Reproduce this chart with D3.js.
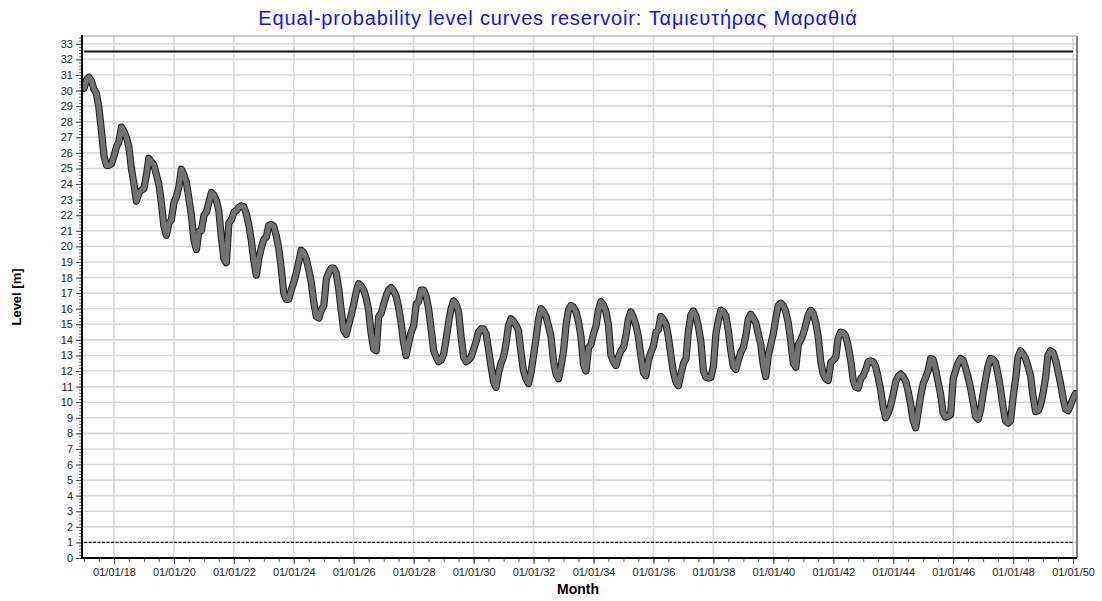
<!DOCTYPE html>
<html>
  <head>
    <meta charset="utf-8">
    <title>Equal-probability level curves</title>
    <script src="https://d3js.org/d3.v7.min.js"></script>
    <style>
      body { margin: 0; background: #fff; }
      svg { display: block; font-family: "Liberation Sans", Arial, sans-serif; }
      .grid line { stroke: #d8d8d8; stroke-width: 1.6; }
      .axis path { display: none; }
      .axis text { font-size: 11px; fill: #222; }
    </style>
  </head>
  <body>
    <div id="chart"></div>
    <script>
      // chart texts
      const title = "Equal-probability level curves reservoir: Ταμιευτήρας Μαραθιά";
      const xTitle = "Month";
      const yTitle = "Level [m]";
      // first month of the series, then one value per month
      const startMonth = new Date(2016, 11, 1);
      const levels = [
        30.2, // Dec 2016
        30.15, 30.7, 30.85, 30.6, 30.1, 29.8, 28.9, 27.4, 25.8, 25.2, 25.2, 25.3, // 2017
        25.8, 26.4, 26.7, 27.65, 27.4, 27.0, 26.4, 25.0, 24.0, 22.9, 23.45, 23.6, // 2018
        23.7, 24.6, 25.65, 25.4, 25.25, 24.6, 24.0, 22.8, 21.3, 20.7, 21.5, 21.7, // 2019
        22.8, 23.2, 23.8, 24.95, 24.6, 24.1, 23.1, 22.0, 20.4, 19.8, 20.95, 21.0, // 2020
        22.0, 22.2, 22.8, 23.45, 23.3, 22.95, 22.3, 20.6, 19.2, 18.95, 21.5, 21.7, // 2021
        22.2, 22.3, 22.5, 22.6, 22.55, 22.1, 21.4, 20.4, 19.1, 18.15, 19.2, 19.9, // 2022
        20.45, 20.6, 21.35, 21.4, 21.3, 20.7, 19.9, 18.6, 17.0, 16.6, 16.6, 17.2, // 2023
        17.7, 18.3, 19.0, 19.75, 19.6, 19.2, 18.5, 17.7, 16.4, 15.5, 15.4, 15.9, // 2024
        16.2, 17.9, 18.3, 18.6, 18.6, 18.3, 17.3, 15.9, 14.6, 14.35, 15.0, 15.6, // 2025
        16.3, 17.1, 17.6, 17.45, 17.2, 16.7, 15.9, 14.4, 13.4, 13.3, 15.5, 15.7, // 2026
        16.3, 16.85, 17.2, 17.35, 17.15, 16.8, 16.1, 15.1, 13.8, 13.0, 13.8, 14.5, // 2027
        14.9, 16.3, 16.45, 17.2, 17.2, 16.8, 16.0, 14.7, 13.3, 12.9, 12.6, 12.7, // 2028
        13.1, 14.1, 15.1, 16.0, 16.5, 16.3, 15.8, 14.2, 12.9, 12.6, 12.7, 12.9, // 2029
        13.4, 13.9, 14.5, 14.7, 14.7, 14.4, 13.4, 12.3, 11.3, 10.95, 11.9, 12.5, // 2030
        12.9, 13.8, 14.9, 15.35, 15.2, 14.95, 14.6, 13.2, 12.0, 11.5, 11.2, 11.9, // 2031
        13.0, 14.1, 15.3, 16.0, 15.8, 15.5, 14.9, 14.2, 12.6, 11.8, 11.5, 12.3, // 2032
        13.3, 15.0, 15.9, 16.2, 16.1, 15.8, 15.2, 14.2, 12.4, 12.0, 13.5, 13.7, // 2033
        14.4, 14.9, 15.9, 16.45, 16.25, 15.8, 15.0, 13.0, 12.6, 12.35, 12.9, 13.3, // 2034
        13.5, 14.3, 15.3, 15.8, 15.45, 14.95, 14.2, 13.0, 11.9, 11.7, 12.7, 13.2, // 2035
        13.6, 14.5, 14.65, 15.5, 15.3, 15.0, 14.2, 13.0, 11.9, 11.3, 11.05, 11.8, // 2036
        12.5, 12.8, 14.5, 15.6, 15.85, 15.55, 14.9, 13.9, 12.0, 11.6, 11.55, 11.6, // 2037
        12.3, 14.4, 15.2, 15.9, 15.8, 15.55, 14.6, 13.3, 12.3, 12.1, 12.7, 13.2, // 2038
        13.5, 14.3, 15.3, 15.65, 15.4, 15.1, 14.4, 13.7, 12.4, 11.65, 13.0, 13.7, // 2039
        14.4, 15.4, 16.2, 16.35, 16.2, 15.8, 15.1, 13.9, 12.5, 12.25, 13.7, 14.0, // 2040
        14.4, 15.0, 15.6, 15.9, 15.7, 15.1, 14.2, 12.6, 11.8, 11.5, 11.4, 12.55, // 2041
        12.7, 12.9, 14.1, 14.5, 14.45, 14.25, 13.6, 12.7, 11.4, 10.95, 10.9, 11.5, // 2042
        11.7, 12.1, 12.6, 12.65, 12.6, 12.3, 11.6, 10.8, 9.7, 9.0, 9.3, 9.8, // 2043
        10.5, 11.3, 11.65, 11.8, 11.65, 11.35, 10.7, 9.85, 8.8, 8.35, 9.4, 10.4, // 2044
        11.2, 11.6, 12.0, 12.8, 12.75, 12.1, 11.3, 10.5, 9.3, 9.05, 9.1, 9.2, // 2045
        11.5, 12.05, 12.5, 12.8, 12.7, 12.2, 11.6, 10.9, 10.0, 9.1, 8.9, 9.5, // 2046
        10.55, 11.5, 12.3, 12.8, 12.75, 12.55, 11.8, 10.85, 9.7, 8.8, 8.65, 8.8, // 2047
        10.3, 11.5, 12.9, 13.3, 13.1, 12.8, 12.3, 11.7, 10.4, 9.4, 9.45, 9.8, // 2048
        10.6, 11.6, 13.0, 13.3, 13.2, 12.7, 12.0, 11.2, 10.3, 9.55, 9.45, 9.8, // 2049
        10.25, 10.55 // 2050
      ];
      // reservoir limits
      const maxLevel = 32.5;
      const minLevel = 1;
      const limitsFrom = new Date(2017, 0, 1);
      const limitsTo = new Date(2050, 0, 1);
      // axis ticks
      const yTicks = d3.range(0, 34);
      const xTickYears = [2018, 2020, 2022, 2024, 2026, 2028, 2030, 2032, 2034, 2036, 2038, 2040, 2042, 2044, 2046, 2048, 2050];

      const width = 1102, height = 601;
      const plotLeft = 82, plotRight = 1077, plotTop = 36, plotBottom = 558;

      const series = levels.map((v, i) => ({ date: d3.timeMonth.offset(startMonth, i), value: v }));

      const x = d3.scaleTime()
        .domain([new Date(2016, 11, 7), new Date(2050, 1, 18)])
        .range([plotLeft, plotRight]);
      const y = d3.scaleLinear()
        .domain([0, 33.5])
        .range([plotBottom, plotTop]);

      const svg = d3.select("#chart")
        .append("svg")
          .attr("width", width)
          .attr("height", height);

      svg.append("defs").append("clipPath")
          .attr("id", "plotClip")
        .append("rect")
          .attr("x", plotLeft)
          .attr("y", plotTop)
          .attr("width", plotRight - plotLeft)
          .attr("height", plotBottom - plotTop);

      // grid
      const grid = svg.append("g").attr("class", "grid");
      grid.selectAll(".h")
          .data(yTicks)
        .enter().append("line")
          .attr("x1", plotLeft).attr("x2", plotRight)
          .attr("y1", d => y(d)).attr("y2", d => y(d));
      const xTickDates = xTickYears.map(yr => new Date(yr, 0, 1));
      grid.selectAll(".v")
          .data(xTickDates)
        .enter().append("line")
          .attr("x1", d => x(d)).attr("x2", d => x(d))
          .attr("y1", plotTop).attr("y2", plotBottom);

      // limits
      svg.append("line")
        .attr("x1", x(limitsFrom)).attr("x2", x(limitsTo))
        .attr("y1", y(maxLevel)).attr("y2", y(maxLevel))
        .attr("stroke", "#111").attr("stroke-width", 2);
      svg.append("line")
        .attr("x1", x(limitsFrom)).attr("x2", x(limitsTo))
        .attr("y1", y(minLevel)).attr("y2", y(minLevel))
        .attr("stroke", "#222").attr("stroke-width", 1.2)
        .attr("stroke-dasharray", "3,1.5");

      // level curve: black outline under a grey core
      const line = d3.line()
        .x(d => x(d.date))
        .y(d => y(d.value));
      const curve = svg.append("g").attr("clip-path", "url(#plotClip)");
      curve.append("path")
        .datum(series)
        .attr("d", line)
        .attr("fill", "none")
        .attr("stroke", "#1a1a1a")
        .attr("stroke-width", 7.2)
        .attr("stroke-linejoin", "round")
        .attr("stroke-linecap", "round");
      curve.append("path")
        .datum(series)
        .attr("d", line)
        .attr("fill", "none")
        .attr("stroke", "#727272")
        .attr("stroke-width", 5.2)
        .attr("stroke-linejoin", "round")
        .attr("stroke-linecap", "round");

      // frame
      svg.append("line").attr("x1", plotLeft).attr("x2", plotRight).attr("y1", plotTop).attr("y2", plotTop)
        .attr("stroke", "#9a9a9a").attr("stroke-width", 1);
      svg.append("line").attr("x1", plotRight).attr("x2", plotRight).attr("y1", plotTop).attr("y2", plotBottom)
        .attr("stroke", "#555").attr("stroke-width", 1.5);
      svg.append("line").attr("x1", plotLeft).attr("x2", plotLeft).attr("y1", plotTop - 1).attr("y2", plotBottom + 1)
        .attr("stroke", "#000").attr("stroke-width", 2);
      svg.append("line").attr("x1", plotLeft - 1).attr("x2", plotRight).attr("y1", plotBottom).attr("y2", plotBottom)
        .attr("stroke", "#000").attr("stroke-width", 2);

      // y axis
      svg.append("g")
        .attr("class", "axis")
        .attr("transform", "translate(" + (plotLeft - 1) + ",0)")
        .call(d3.axisLeft(y).tickValues(yTicks).tickSize(5).tickPadding(3).tickFormat(d3.format("d")))
        .call(g => g.selectAll(".tick line").attr("stroke", "#333"));
      svg.append("g")
        .attr("class", "axis")
        .attr("transform", "translate(" + (plotLeft - 1) + ",0)")
        .call(d3.axisLeft(y).tickValues(d3.range(0, 33.5, 0.2)).tickSize(2).tickFormat(""))
        .call(g => g.selectAll(".tick line").attr("stroke", "#666"));

      // x axis
      svg.append("g")
        .attr("class", "axis")
        .attr("transform", "translate(0," + (plotBottom + 1) + ")")
        .call(d3.axisBottom(x).tickValues(xTickDates).tickSize(5).tickPadding(4).tickFormat(d3.timeFormat("%d/%m/%y")))
        .call(g => g.selectAll(".tick line").attr("stroke", "#333"));
      svg.append("g")
        .attr("class", "axis")
        .attr("transform", "translate(0," + (plotBottom + 1) + ")")
        .call(d3.axisBottom(x).tickValues(d3.timeMonth.every(6).range(new Date(2017, 0, 1), new Date(2050, 0, 2))).tickSize(3).tickFormat(""))
        .call(g => g.selectAll(".tick line").attr("stroke", "#555"));

      // titles
      svg.append("text")
        .attr("x", 558).attr("y", 25)
        .attr("text-anchor", "middle")
        .attr("fill", "#1010ff")
        .style("font-size", "20px")
        .style("letter-spacing", "0.85px")
        .text(title);
      svg.append("text")
        .attr("x", 578).attr("y", 594)
        .attr("text-anchor", "middle")
        .style("font-size", "14px")
        .style("font-weight", "bold")
        .text(xTitle);
      svg.append("text")
        .attr("transform", "translate(21,297) rotate(-90)")
        .attr("text-anchor", "middle")
        .style("font-size", "13px")
        .style("font-weight", "bold")
        .text(yTitle);
    </script>
  </body>
</html>
